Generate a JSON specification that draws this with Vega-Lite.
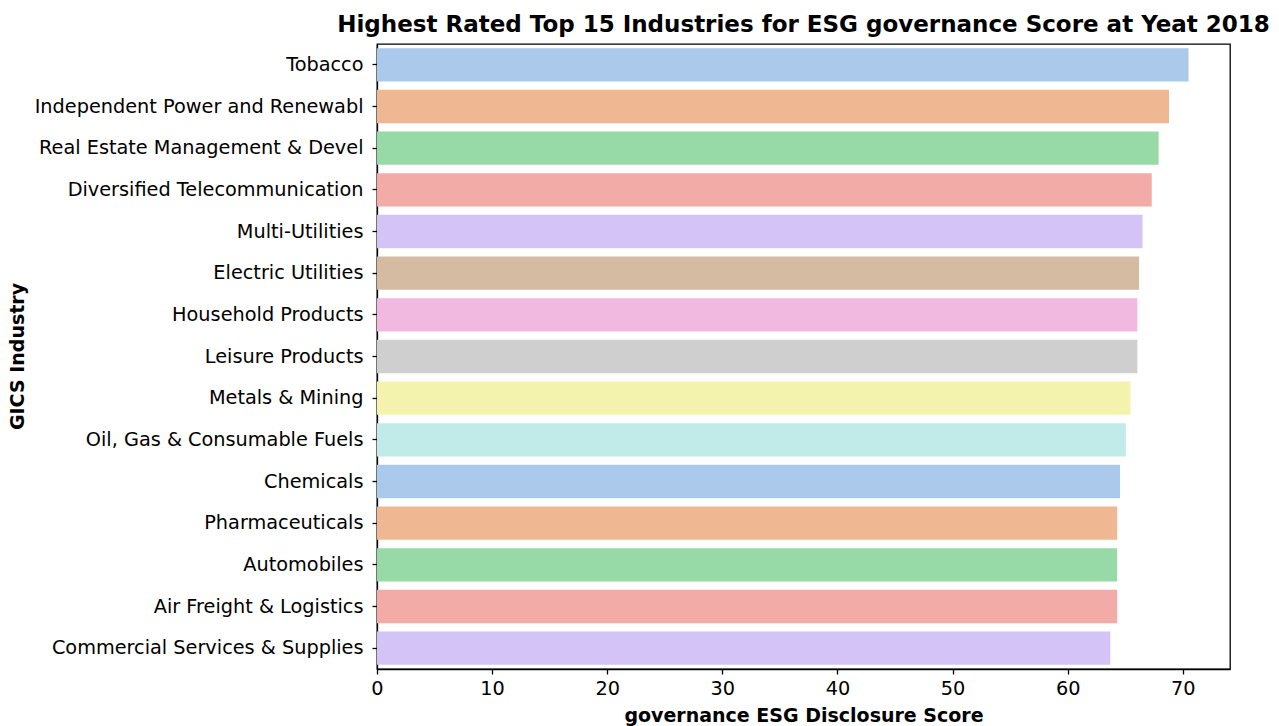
{
  "$schema": "https://vega.github.io/schema/vega-lite/v6.json",
  "width": 853,
  "height": 625,
  "autosize": {"type": "none"},
  "padding": {"left": 377, "top": 44, "right": 49, "bottom": 57},
  "background": "white",
  "config": {
    "font": "DejaVu Sans",
    "view": {"stroke": "#000000", "strokeWidth": 1.3},
    "axis": {"grid": false, "zindex": 1, "domainColor": "#000000", "tickColor": "#000000", "labelColor": "#000000", "titleColor": "#000000", "domainWidth": 1.3, "tickWidth": 1.3, "tickSize": 5, "labelFont": "DejaVu Sans", "titleFont": "DejaVu Sans", "labelFontSize": 19.3, "titleFontSize": 19, "titleFontWeight": "bold"}
  },
  "title": {"text": "Highest Rated Top 15 Industries for ESG governance Score at Yeat 2018", "font": "DejaVu Sans", "fontSize": 23, "fontWeight": "bold", "anchor": "middle", "offset": 7, "color": "#000000"},
  "data": {"values": [
    {"industry": "Tobacco", "score": 70.5, "c": "c0"},
    {"industry": "Independent Power and Renewabl", "score": 68.8, "c": "c1"},
    {"industry": "Real Estate Management & Devel", "score": 67.9, "c": "c2"},
    {"industry": "Diversified Telecommunication", "score": 67.3, "c": "c3"},
    {"industry": "Multi-Utilities", "score": 66.5, "c": "c4"},
    {"industry": "Electric Utilities", "score": 66.2, "c": "c5"},
    {"industry": "Household Products", "score": 66.05, "c": "c6"},
    {"industry": "Leisure Products", "score": 66.05, "c": "c7"},
    {"industry": "Metals & Mining", "score": 65.45, "c": "c8"},
    {"industry": "Oil, Gas & Consumable Fuels", "score": 65.05, "c": "c9"},
    {"industry": "Chemicals", "score": 64.55, "c": "c0b"},
    {"industry": "Pharmaceuticals", "score": 64.3, "c": "c1b"},
    {"industry": "Automobiles", "score": 64.3, "c": "c2b"},
    {"industry": "Air Freight & Logistics", "score": 64.3, "c": "c3b"},
    {"industry": "Commercial Services & Supplies", "score": 63.7, "c": "c4b"}
  ]},
  "mark": {"type": "bar", "strokeWidth": 0},
  "encoding": {
    "y": {"field": "industry", "type": "nominal", "sort": null,
      "scale": {"paddingInner": 0.2, "paddingOuter": 0.1},
      "axis": {"title": "GICS Industry", "labelPadding": 9, "labelLimit": 400, "titleAngle": -90, "titleX": -360, "titleY": 312, "titleAlign": "center", "titleBaseline": "middle"}},
    "x": {"field": "score", "type": "quantitative",
      "scale": {"domain": [0, 74.1], "nice": false, "zero": true},
      "axis": {"title": "governance ESG Disclosure Score", "values": [0, 10, 20, 30, 40, 50, 60, 70], "labelPadding": 5, "titlePadding": 8, "labelFlush": false}},
    "color": {"field": "c", "type": "nominal", "legend": null,
      "scale": {"domain": ["c0","c1","c2","c3","c4","c5","c6","c7","c8","c9","c0b","c1b","c2b","c3b","c4b"],
        "range": ["#abc9ea","#efb792","#98daa7","#f3aba8","#d3c3f6","#d6bba3","#f1b9e0","#cfcfcf","#f4f3ae","#c0ebe9","#abc9ea","#efb792","#98daa7","#f3aba8","#d3c3f6"]}}
  }
}
